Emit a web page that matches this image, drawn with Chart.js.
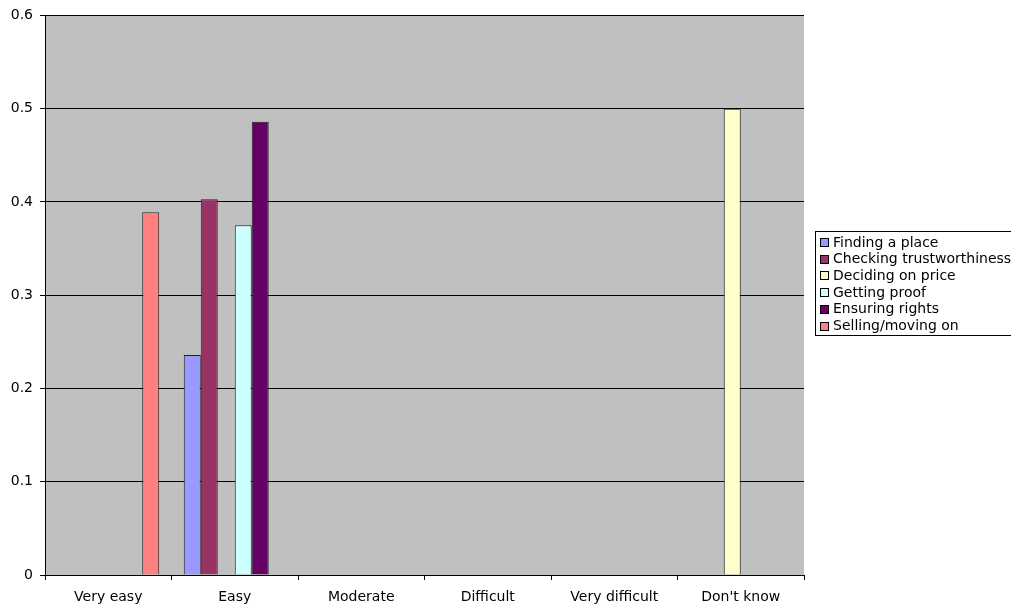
<!DOCTYPE html>
<html>
<head>
<meta charset="utf-8">
<script src="https://cdn.jsdelivr.net/npm/chart.js@4/dist/chart.umd.min.js"></script>
<style>
  html, body { margin: 0; padding: 0; background: #fff; }
  #wrap { width: 1011px; height: 605px; }
</style>
</head>
<body>
<div id="wrap"><canvas id="myChart" width="1011" height="605"></canvas></div>
<script>
// categorias del eje x
const categorias = ['Very easy', 'Easy', 'Moderate', 'Difficult', 'Very difficult', "Don't know"];

// series
const nombresSeries = ['Finding a place', 'Checking trustworthiness', 'Deciding on price', 'Getting proof', 'Ensuring rights', 'Selling/moving on'];
const findingPlace = [0, 0.236, 0, 0, 0, 0];
const checkingTrust = [0, 0.403, 0, 0, 0, 0];
const decidingPrice = [0, 0, 0, 0, 0, 0.5];
const gettingProof = [0, 0.375, 0, 0, 0, 0];
const ensuringRights = [0, 0.486, 0, 0, 0, 0];
const sellingMoving = [0.389, 0, 0, 0, 0, 0];

const yTicks = [0, 0.1, 0.2, 0.3, 0.4, 0.5, 0.6];
const colores = ['#9999FF', '#993366', '#FFFFCC', '#CCFFFF', '#660066', '#FF8080'];
const valores = [findingPlace, checkingTrust, decidingPrice, gettingProof, ensuringRights, sellingMoving];

const fuente = 'DejaVu Sans, Verdana, sans-serif';

// fondo gris del area de trazado
const fondoPlot = {
  id: 'fondoPlot',
  beforeDraw(chart) {
    const a = chart.chartArea, c = chart.ctx;
    c.save();
    c.fillStyle = '#C0C0C0';
    c.fillRect(a.left, a.top, a.right - a.left, a.bottom - a.top);
    c.restore();
  }
};

// leyenda estilo Excel, con caja
const leyendaCaja = {
  id: 'leyendaCaja',
  afterDraw(chart) {
    const c = chart.ctx;
    const x0 = 815, y0 = 231, alto = 104, paso = 16.7;
    c.save();
    c.fillStyle = '#fff';
    c.fillRect(x0, y0, 1011 - x0 + 20, alto);
    c.strokeStyle = '#000';
    c.lineWidth = 1;
    c.strokeRect(x0 + 0.5, y0 + 0.5, 1011 - x0 + 20, alto);
    c.font = '14px ' + fuente;
    c.textBaseline = 'middle';
    nombresSeries.forEach((n, i) => {
      const y = y0 + 11 + i * paso;
      c.fillStyle = colores[i];
      c.fillRect(820, Math.round(y - 4), 8, 8);
      c.strokeStyle = '#000';
      c.strokeRect(820.5, Math.round(y - 4) + 0.5, 8, 8);
      c.fillStyle = '#000';
      c.fillText(n, 833, y + 1);
    });
    c.restore();
  }
};

const ctx = document.getElementById('myChart').getContext('2d');
new Chart(ctx, {
  type: 'bar',
  data: {
    labels: categorias,
    datasets: nombresSeries.map((n, i) => ({
      label: n,
      data: valores[i],
      backgroundColor: colores[i],
      borderColor: '#222',
      borderWidth: 1,
      borderSkipped: 'bottom',
      categoryPercentage: 0.806,
      barPercentage: 1.0
    }))
  },
  options: {
    responsive: false,
    animation: false,
    layout: { padding: { top: 15, right: 207, left: 0, bottom: 0 } },
    plugins: {
      legend: { display: false },
      tooltip: { enabled: false }
    },
    scales: {
      x: {
        afterFit(s) { s.height = 30; },
        grid: {
          offset: true,
          drawOnChartArea: false,
          color: '#000',
          tickLength: 5,
          tickColor: '#000'
        },
        border: { color: '#000', width: 1 },
        ticks: { color: '#000', font: { family: fuente, size: 14 }, padding: 9, maxRotation: 0 }
      },
      y: {
        min: 0,
        max: 0.6,
        afterFit(s) { s.width = 45; },
        afterBuildTicks(s) { s.ticks = yTicks.map(v => ({ value: v })); },
        grid: {
          color: '#000',
          tickLength: 5,
          tickColor: '#000'
        },
        border: { color: '#000', width: 1 },
        ticks: {
          color: '#000',
          font: { family: fuente, size: 14 },
          padding: 7,
          callback: v => String(v)
        }
      }
    }
  },
  plugins: [fondoPlot, leyendaCaja]
});
</script>
</body>
</html>
